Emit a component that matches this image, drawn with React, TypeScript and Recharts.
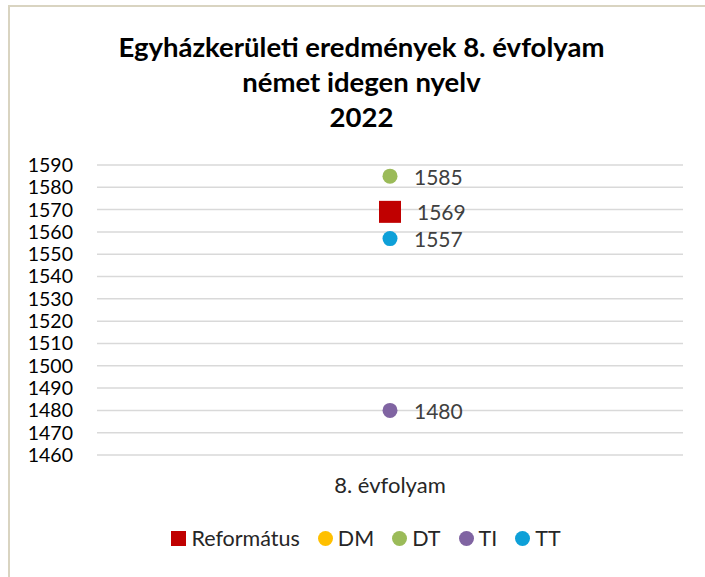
import React from 'react';
import {
  ComposedChart,
  Line,
  XAxis,
  YAxis,
  CartesianGrid,
  Legend,
  LabelList,
} from 'recharts';

const categories = ['8. évfolyam'];
const reformatus: (number | null)[] = [1569];
const dm: (number | null)[] = [null];
const dt: (number | null)[] = [1585];
const ti: (number | null)[] = [1480];
const tt: (number | null)[] = [1557];
const yTicks = [1460, 1470, 1480, 1490, 1500, 1510, 1520, 1530, 1540, 1550, 1560, 1570, 1580, 1590];

const series = [
  { key: 'ref', name: 'Református', values: reformatus, color: '#C00000', shape: 'square' },
  { key: 'dm', name: 'DM', values: dm, color: '#FFC000', shape: 'circle' },
  { key: 'dt', name: 'DT', values: dt, color: '#9BBB59', shape: 'circle' },
  { key: 'ti', name: 'TI', values: ti, color: '#8064A2', shape: 'circle' },
  { key: 'tt', name: 'TT', values: tt, color: '#0EA0D8', shape: 'circle' },
];

const data = categories.map((cat, i) => {
  const row: Record<string, string | number | null> = { cat };
  series.forEach((s) => {
    row[s.key] = s.values[i];
  });
  return row;
});

const FONT = 'Lato, "Liberation Sans", sans-serif';

const makeDot = (color: string, shape: string) => (props: any) => {
  const { cx, cy, value, index } = props;
  if (value == null || cx == null || cy == null) return <g key={index} />;
  if (shape === 'square') {
    return <rect key={index} x={cx - 11} y={cy - 11} width={22} height={22} fill={color} />;
  }
  return <circle key={index} cx={cx} cy={cy} r={7.5} fill={color} />;
};

const makeLabel = (dx: number) => (props: any) => {
  const { x, y, value } = props;
  if (value == null) return null;
  return (
    <text
      x={x + dx}
      y={y}
      dominantBaseline="central"
      fill="#404040"
      fontSize={21}
      fontFamily={FONT}
    >
      {value}
    </text>
  );
};

const renderLegend = () => (
  <div
    style={{
      display: 'flex',
      justifyContent: 'center',
      alignItems: 'center',
      height: 30,
      fontFamily: FONT,
      fontSize: 21.5,
      color: '#262626',
    }}
  >
    {series.map((s, i) => (
      <span
        key={s.key}
        style={{ display: 'inline-flex', alignItems: 'center', marginRight: i < series.length - 1 ? 18 : 0 }}
      >
        <svg width={15} height={15} style={{ marginRight: 5 }}>
          {s.shape === 'square' ? (
            <rect x={0} y={0} width={15} height={15} fill={s.color} />
          ) : (
            <circle cx={7.5} cy={7.5} r={7.5} fill={s.color} />
          )}
        </svg>
        {s.name}
      </span>
    ))}
  </div>
);

export default function App() {
  return (
    <div
      style={{
        position: 'absolute',
        left: 0,
        top: 0,
        width: 705,
        height: 577,
        background: '#fff',
        fontFamily: FONT,
        overflow: 'hidden',
      }}
    >
      <div style={{ position: 'absolute', left: 8, top: 5, width: 697, height: 2, background: '#D9D4C1' }} />
      <div style={{ position: 'absolute', left: 8, top: 5, width: 2, height: 572, background: '#D9D4C1' }} />
      <div
        style={{
          position: 'absolute',
          left: 10,
          top: 29,
          width: 703,
          textAlign: 'center',
          fontWeight: 'bold',
          fontSize: 27.5,
          lineHeight: '35px',
          color: '#000',
        }}
      >
        Egyházkerületi eredmények 8. évfolyam
        <br />
        német idegen nyelv
        <br />
        2022
      </div>
      <div style={{ position: 'absolute', left: 0, top: 0 }}>
        <ComposedChart
          width={705}
          height={577}
          data={data}
          margin={{ top: 165, right: 22, bottom: 24, left: 20 }}
        >
          <CartesianGrid vertical={false} stroke="#D9D9D9" strokeWidth={1.5} />
          <XAxis
            dataKey="cat"
            axisLine={false}
            tickLine={false}
            tickSize={0}
            tickMargin={22}
            height={68}
            tick={{ fill: '#262626', fontSize: 22, fontFamily: FONT }}
          />
          <YAxis
            domain={[1460, 1590]}
            ticks={yTicks}
            interval={0}
            axisLine={false}
            tickLine={false}
            tickSize={0}
            tickMargin={24}
            width={77}
            tick={{ fill: '#000', fontSize: 19.5, fontFamily: FONT }}
          />
          <Legend
            verticalAlign="bottom"
            wrapperStyle={{ left: 20, width: 692, height: 30 }}
            content={renderLegend}
          />
          {series.map((s) => (
            <Line
              key={s.key}
              dataKey={s.key}
              name={s.name}
              stroke="none"
              fill={s.color}
              dot={makeDot(s.color, s.shape)}
              activeDot={false}
              isAnimationActive={false}
            >
              <LabelList dataKey={s.key} content={makeLabel(s.shape === 'square' ? 27 : 24)} />
            </Line>
          ))}
        </ComposedChart>
      </div>
    </div>
  );
}
